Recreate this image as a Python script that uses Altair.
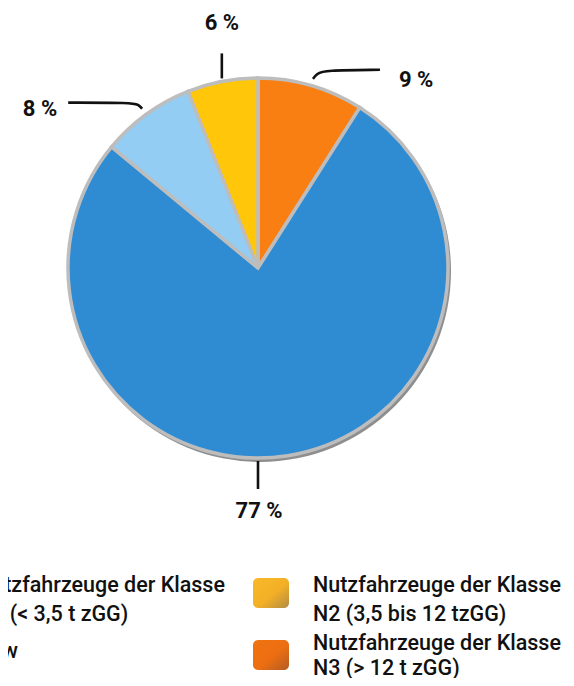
import math
import altair as alt
import pandas as pd

# ---- data ----
categories = ["N3", "Pkw", "N1", "N2"]          # clockwise from 12 o'clock
values = [9, 77, 8, 6]
value_labels = ["9 %", "77 %", "8 %", "6 %"]
slice_colors = ["#FA7F12", "#2F8BD2", "#93CDF3", "#FFC60A"]

legend_cats = ["N1", "N2", "Pkw", "N3"]
legend_texts = [
    "Nutzfahrzeuge der Klasse\nN1 (< 3,5 t zGG)",
    "Nutzfahrzeuge der Klasse\nN2 (3,5 bis 12 tzGG)",
    "Pkw",
    "Nutzfahrzeuge der Klasse\nN3 (> 12 t zGG)",
]
legend_grad = {
    "N1": ["#B7E0FA", "#93CDF3", "#6E9CBC"],
    "Pkw": ["#4FA2E2", "#2F8BD2", "#2A6A9C"],
    "N2": ["#F9B82A", "#F3B026", "#B08A46"],
    "N3": ["#F07410", "#EC6E12", "#B35C24"],
}

# ---- layout ----
W, H = 558, 670
CX, CY, R = 250, 260, 190
leader_style = {"9 %": "right", "77 %": "down", "8 %": "left", "6 %": "up"}
angle_override = {"77 %": 180.0}

pie = pd.DataFrame({"cat": categories, "value": values, "ord": range(len(values))})

# leader lines and label positions from slice mid-angles
total = sum(values)
line_rows, lab_rows = [], []
cum = 0.0
for lab, v in zip(value_labels, values):
    mid = (cum + v / 2) / total * 360.0
    cum += v
    ang = math.radians(angle_override.get(lab, mid))
    st = leader_style[lab]
    r0 = 193 if st in ("up", "down") else 197
    x0 = CX + r0 * math.sin(ang)
    y0 = CY - r0 * math.cos(ang)
    if st == "up":
        pts = [(x0, y0), (x0, y0 - 25)]
        tx, ty, al = x0, y0 - 55, "center"
    elif st == "down":
        pts = [(x0, y0), (x0, y0 + 28)]
        tx, ty, al = x0 + 1, y0 + 50, "center"
    elif st == "right":
        pts = [(x0, y0), (x0 + 4, y0 - 5), (x0 + 11, y0 - 8.5), (x0 + 67, y0 - 9)]
        tx, ty, al = x0 + 86, y0 + 1, "left"
    else:
        pts = [(x0, y0), (x0 - 4, y0 - 4), (x0 - 10, y0 - 6), (x0 - 74, y0 - 6)]
        tx, ty, al = x0 - 85, y0, "right"
    for i, (px, py) in enumerate(pts):
        line_rows.append({"lab": lab, "i": i, "x": px, "y": py})
    lab_rows.append({"lab": lab, "x": tx, "y": ty, "align": al})

lines_df = pd.DataFrame(line_rows)
labs_df = pd.DataFrame(lab_rows)

# legend layout: column x, symbol top, first text baseline, line height
col_x = {0: -91, 1: 245}
item_layout = {"N1": (0, 570, 584, 29), "N2": (1, 570, 584, 29),
               "Pkw": (0, 632, 650, 29), "N3": (1, 632, 642, 25)}
leg_rows = []
for c, t in zip(legend_cats, legend_texts):
    col, top, base, lh = item_layout[c]
    leg_rows.append({"cat": c, "text": t, "x": col_x[col], "x2": col_x[col] + 36,
                     "y": top, "y2": top + 30, "tx": col_x[col] + 60, "ty": base,
                     "lh": lh})
leg_df = pd.DataFrame(leg_rows)

xs = alt.Scale(domain=[0, W], range=[0, W])
ys = alt.Scale(domain=[0, H], range=[0, H])

shadow = alt.Chart(pd.DataFrame({"a": [1]})).mark_arc(
    outerRadius=R + 1, color="#7a7a7a", opacity=0.85
).encode(theta=alt.value(0), theta2=alt.value(6.2832),
         x=alt.value(CX + 2), y=alt.value(CY + 3))

arcs = alt.Chart(pie).mark_arc(
    outerRadius=R, stroke="#bdbdbd", strokeWidth=3.5
).encode(
    theta=alt.Theta("value:Q", stack=True),
    color=alt.Color("cat:N", scale=alt.Scale(domain=categories, range=slice_colors), legend=None),
    order=alt.Order("ord:Q"),
    x=alt.value(CX),
    y=alt.value(CY),
)

leaders = alt.Chart(lines_df).mark_line(
    color="#111111", strokeWidth=2.6, interpolate="basis"
).encode(
    x=alt.X("x:Q", scale=xs, axis=None),
    y=alt.Y("y:Q", scale=ys, axis=None),
    detail="lab:N",
    order="i:Q",
)

def lab_layer(al):
    return alt.Chart(labs_df[labs_df["align"] == al]).mark_text(
        font="Roboto", fontSize=22, fontWeight="bold", color="#111111",
        align=al, baseline="middle"
    ).encode(
        x=alt.X("x:Q", scale=xs, axis=None),
        y=alt.Y("y:Q", scale=ys, axis=None),
        text="lab:N",
    )

sym_layers = []
for c in legend_cats:
    g = legend_grad[c]
    sym_layers.append(
        alt.Chart(leg_df[leg_df["cat"] == c]).mark_rect(
            cornerRadius=5,
            color={"gradient": "linear", "x1": 0, "y1": 0, "x2": 1, "y2": 1,
                   "stops": [{"offset": 0, "color": g[0]},
                             {"offset": 0.55, "color": g[1]},
                             {"offset": 1, "color": g[2]}]},
        ).encode(
            x=alt.X("x:Q", scale=xs, axis=None), x2="x2:Q",
            y=alt.Y("y:Q", scale=ys, axis=None), y2="y2:Q",
        )
    )

def leg_text_layer(lh):
    return alt.Chart(leg_df[leg_df["lh"] == lh]).mark_text(
        font="Roboto", fontSize=21.5, fontWeight=500, color="#111111",
        align="left", baseline="alphabetic", lineBreak="\n", lineHeight=lh
    ).encode(
        x=alt.X("tx:Q", scale=xs, axis=None),
        y=alt.Y("ty:Q", scale=ys, axis=None),
        text="text:N",
    )

chart = alt.layer(
    shadow, arcs, leaders, lab_layer("center"), lab_layer("left"), lab_layer("right"),
    *sym_layers, leg_text_layer(29), leg_text_layer(25)
).properties(
    width=W, height=H, autosize=alt.AutoSizeParams(type="none"), padding=0
).configure_view(stroke=None)

chart.save("out.html", embed_options={"renderer": "svg", "actions": False})
